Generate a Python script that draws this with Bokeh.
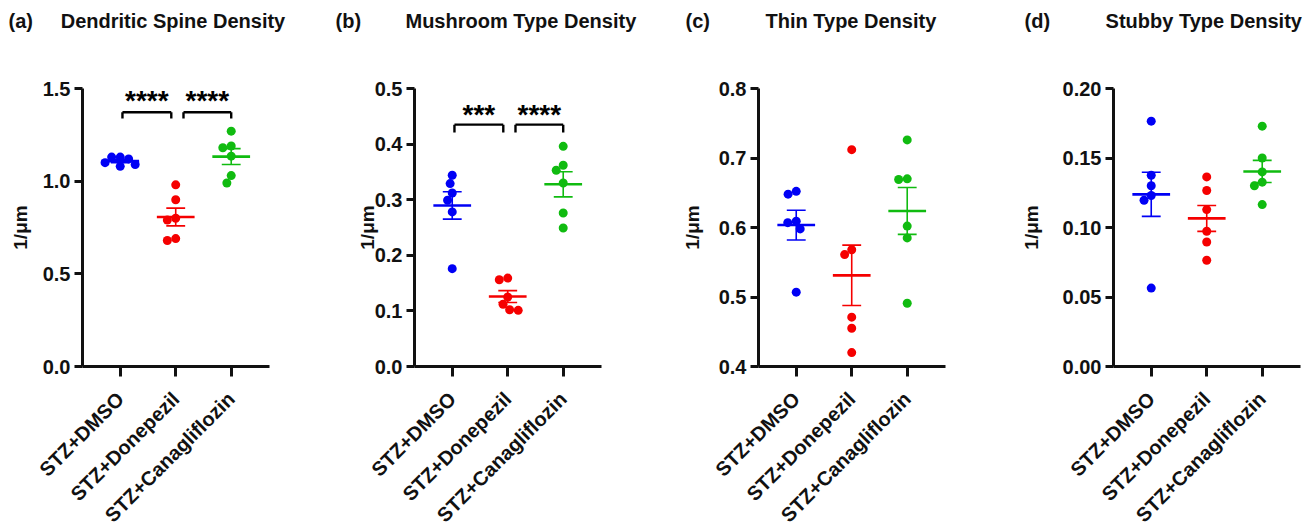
import math
import numpy as np
from bokeh.plotting import figure
from bokeh.layouts import row
from bokeh.models import Range1d, FixedTicker, PrintfTickFormatter, Title
from bokeh.core.properties import value
from bokeh.embed import file_html
from bokeh.resources import INLINE

# ---------------- data ----------------
groups = ["STZ+DMSO", "STZ+Donepezil", "STZ+Canagliflozin"]
colors = ["#0000F5", "#F50000", "#10BB10"]

spine_dmso = [1.09, 1.13, 1.10, 1.12, 1.13, 1.08]
spine_donepezil = [0.98, 0.90, 0.79, 0.80, 0.68, 0.69]
spine_cana = [1.27, 1.19, 1.18, 1.135, 1.03, 0.99]

mush_dmso = [0.344, 0.329, 0.312, 0.299, 0.278, 0.176]
mush_donepezil = [0.159, 0.156, 0.125, 0.112, 0.101, 0.102]
mush_cana = [0.396, 0.362, 0.353, 0.330, 0.276, 0.249]

thin_dmso = [0.648, 0.652, 0.609, 0.607, 0.598, 0.507]
thin_donepezil = [0.712, 0.568, 0.561, 0.471, 0.455, 0.420]
thin_cana = [0.726, 0.670, 0.669, 0.602, 0.585, 0.491]

stubby_dmso = [0.1765, 0.1376, 0.130, 0.123, 0.1196, 0.0564]
stubby_donepezil = [0.1364, 0.1266, 0.1129, 0.0973, 0.0896, 0.0764]
stubby_cana = [0.1729, 0.150, 0.140, 0.1326, 0.130, 0.1165]

titles = ["Dendritic Spine Density", "Mushroom Type Density",
          "Thin Type Density", "Stubby Type Density"]
letters = ["(a)", "(b)", "(c)", "(d)"]
y_ticks_a = [0.0, 0.5, 1.0, 1.5]
y_ticks_b = [0.0, 0.1, 0.2, 0.3, 0.4, 0.5]
y_ticks_c = [0.4, 0.5, 0.6, 0.7, 0.8]
y_ticks_d = [0.0, 0.05, 0.10, 0.15, 0.20]
sig_a = [(0, 1, "****"), (1, 2, "****")]
sig_b = [(0, 1, "***"), (1, 2, "****")]

FONT = "Liberation Sans"
FRAME_W, FRAME_H = 187, 278
PX_PER_CAT = 55.5
DOT = 9
X_RANGE = (-0.68, 2.69)
NBSP = "\u00a0"


def beeswarm(vals, px_per_unit, d=8.6):
    vals = np.asarray(vals, dtype=float)
    order = np.argsort(-vals, kind="stable")
    placed = []
    xs = np.zeros(len(vals))
    for i in order:
        y = vals[i] * px_per_unit
        cands = [0.0]
        for xp, yp in placed:
            dy = abs(y - yp)
            if dy < d:
                dx = math.sqrt(d * d - dy * dy)
                cands += [xp + dx, xp - dx]
        ok = [c for c in cands
              if all((c - xp) ** 2 + (y - yp) ** 2 >= d * d - 1e-6 for xp, yp in placed)]
        best = min(ok, key=lambda c: (abs(c), c))
        xs[i] = best
        placed.append((best, y))
    return xs / PX_PER_CAT


def panel(idx, series, ymin, ymax, ticks, fmt, b_left, b_right, standoff,
          gap, title_off, sig=None, bracket=None):
    p = figure(frame_width=FRAME_W, frame_height=FRAME_H,
               x_range=Range1d(*X_RANGE), y_range=Range1d(ymin, ymax),
               output_backend="svg", toolbar_location=None,
               min_border_left=b_left, min_border_right=b_right,
               min_border_top=88, min_border_bottom=152)
    p.outline_line_color = None
    p.xgrid.visible = False
    p.ygrid.visible = False
    p.background_fill_color = "white"
    p.border_fill_color = "white"

    pxu = FRAME_H / (ymax - ymin)
    for g, vals in enumerate(series):
        vals = np.asarray(vals, dtype=float)
        off = beeswarm(vals, pxu)
        p.scatter(g + off, vals, size=DOT, color=colors[g], line_color=None)
        m = vals.mean()
        sem = vals.std(ddof=1) / math.sqrt(len(vals))
        p.segment(x0=[g - 0.34], y0=[m], x1=[g + 0.34], y1=[m],
                  line_color=colors[g], line_width=2.6)
        p.segment(x0=[g, g - 0.17, g - 0.17], y0=[m - sem, m + sem, m - sem],
                  x1=[g, g + 0.17, g + 0.17], y1=[m + sem, m + sem, m - sem],
                  line_color=colors[g], line_width=1.6)

    if sig:
        top, leg, txt = bracket
        for a, b, s in sig:
            x0 = a + (0.04 if a == 0 else 0.14)
            x1 = b - (0.08 if b == 1 else 0.0)
            p.segment(x0=[x0, x0, x1], y0=[top, top, top], x1=[x1, x0, x1],
                      y1=[top, leg, leg], line_color="black", line_width=2.4)
            p.text(x=[(x0 + x1) / 2], y=[txt], text=[s],
                   text_font=value(FONT), text_font_style="bold",
                   text_font_size="28px", text_align="center",
                   text_baseline="alphabetic", text_color="black")

    # axes
    for ax in (p.xaxis[0], p.yaxis[0]):
        ax.axis_line_width = 3
        ax.axis_line_color = "#111111"
        ax.major_tick_line_width = 3
        ax.major_tick_line_color = "#111111"
        ax.minor_tick_line_color = None
        ax.major_tick_in = 0
        ax.major_label_text_font = FONT
        ax.major_label_text_font_style = "bold"
        ax.major_label_text_color = "#111111"
    xa = p.xaxis[0]
    xa.ticker = FixedTicker(ticks=[0, 1, 2])
    xa.major_label_overrides = {0: groups[0], 1: groups[1], 2: groups[2]}
    xa.major_label_orientation = math.pi / 4
    xa.major_tick_out = 10
    xa.major_label_standoff = 19
    xa.major_label_text_font_size = "20px"

    ya = p.yaxis[0]
    ya.ticker = FixedTicker(ticks=ticks)
    ya.formatter = PrintfTickFormatter(format=fmt)
    ya.major_tick_out = 8
    ya.major_label_standoff = 4
    ya.major_label_text_font_size = "20px"
    ya.axis_label = "1/μm"
    ya.axis_label_text_font = FONT
    ya.axis_label_text_font_style = "bold"
    ya.axis_label_text_font_size = "19px"
    ya.axis_label_text_color = "#111111"
    ya.axis_label_standoff = standoff

    # spacer between the frame and the panel title
    p.add_layout(Title(text=NBSP, text_font_size="1px", standoff=54,
                       text_color="white"), "above")

    p.title.text = letters[idx] + NBSP * gap + titles[idx]
    p.title.align = "left"
    p.title.offset = title_off
    p.title.standoff = 0
    p.title.text_font = FONT
    p.title.text_font_style = "bold"
    p.title.text_font_size = "20px"
    p.title.text_color = "#111111"
    return p


pa = panel(0, [spine_dmso, spine_donepezil, spine_cana], 0.0, 1.5, y_ticks_a, "%.1f",
           82, 62, 9, 5, -74, sig_a, (1.372, 1.338, 1.436))
pb = panel(1, [mush_dmso, mush_donepezil, mush_cana], 0.0, 0.5, y_ticks_b, "%.1f",
           83, 75, -6, 8, -79, sig_b, (0.435, 0.421, 0.454))
pc = panel(2, [thin_dmso, thin_donepezil, thin_cana], 0.4, 0.8, y_ticks_c, "%.1f",
           82, 70, 13, 10, -73)
pd = panel(3, [stubby_dmso, stubby_donepezil, stubby_cana], 0.0, 0.2, y_ticks_d, "%.2f",
           98, 5, 18, 10, -89)

layout = row(pa, pb, pc, pd)
open("out.html", "w").write(file_html(layout, INLINE))
